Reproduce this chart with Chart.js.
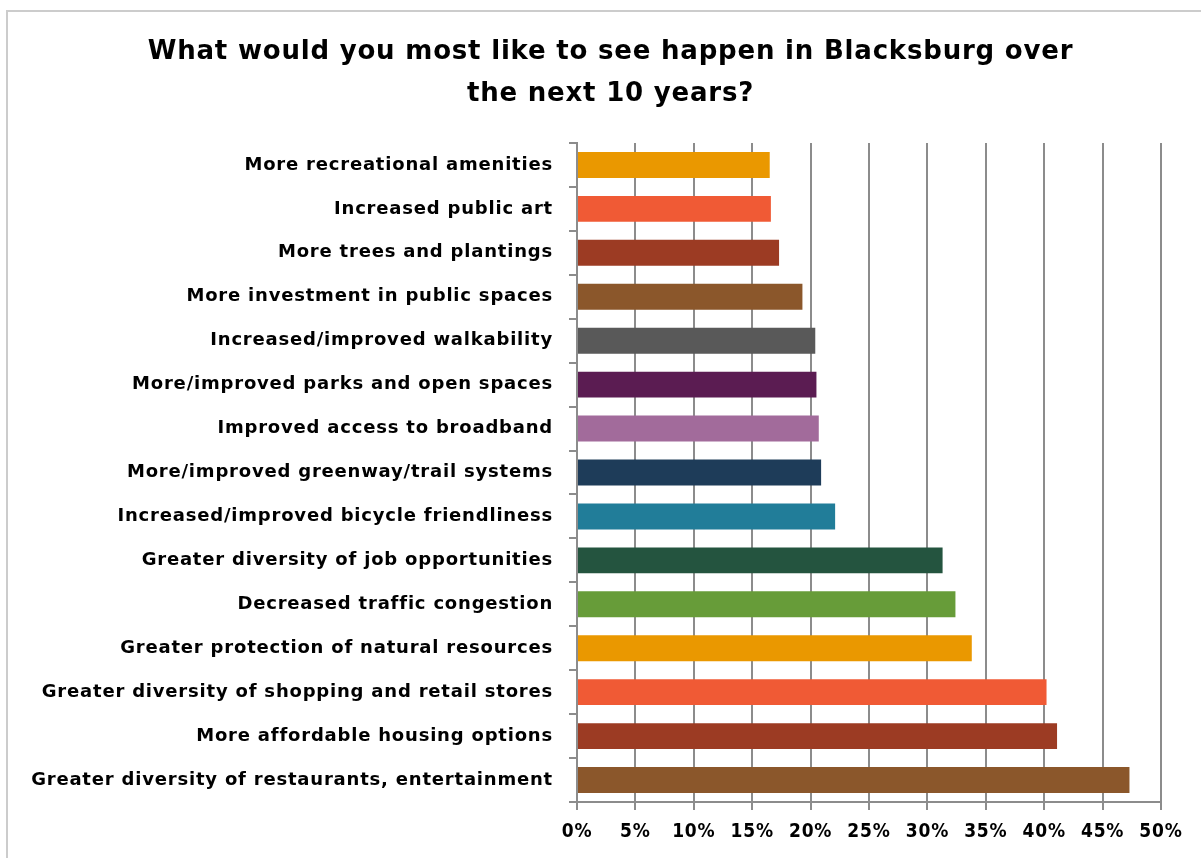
<!DOCTYPE html>
<html>
<head>
<meta charset="utf-8">
<title>Blacksburg survey</title>
<script src="https://cdn.jsdelivr.net/npm/chart.js@4"></script>
<style>
  html, body { margin: 0; padding: 0; background: #fff; }
  #wrap { position: relative; width: 1201px; height: 858px; }
</style>
</head>
<body>
<div id="wrap"><canvas id="survey-chart" width="1201" height="858"></canvas></div>
<script>
// Survey answers, top to bottom as drawn
const categories = [
  'More recreational amenities',
  'Increased public art',
  'More trees and plantings',
  'More investment in public spaces',
  'Increased/improved walkability',
  'More/improved parks and open spaces',
  'Improved access to broadband',
  'More/improved greenway/trail systems',
  'Increased/improved bicycle friendliness',
  'Greater diversity of job opportunities',
  'Decreased traffic congestion',
  'Greater protection of natural resources',
  'Greater diversity of shopping and retail stores',
  'More affordable housing options',
  'Greater diversity of restaurants, entertainment'
];

// Share of respondents (percent)
const shares = [16.5, 16.6, 17.3, 19.3, 20.4, 20.5, 20.7, 20.9, 22.1, 31.3, 32.4, 33.8, 40.2, 41.1, 47.3];

const barColors = [
  '#EA9800', '#F05A35', '#9C3B23', '#8B572B', '#595959',
  '#5B1C52', '#A26B9B', '#1E3C59', '#217D99', '#24543F',
  '#679C39', '#EA9800', '#F05A35', '#9C3B23', '#8B572B'
];

const xTicks = [0, 5, 10, 15, 20, 25, 30, 35, 40, 45, 50];

const titleLines = [
  'What would you most like to see happen in Blacksburg over',
  'the next 10 years?'
];

const FONT = "'DejaVu Sans', sans-serif";
const CONDENSED = "'DejaVu Sans Condensed', 'DejaVu Sans', sans-serif";

// Thin frame on the top and left edges, plus a little tracking for the text
const framePlugin = {
  id: 'frame',
  afterLayout(chart) {
    // nudge the title so it centres a bit right of the canvas middle
    if (chart.titleBlock) chart.titleBlock.left += 60;
  },
  beforeDraw(chart) {
    const ctx = chart.ctx;
    ctx.save();
    ctx.fillStyle = '#fff';
    ctx.fillRect(0, 0, chart.width, chart.height);
    ctx.strokeStyle = '#cccccc';
    ctx.lineWidth = 2;
    ctx.beginPath();
    ctx.moveTo(7, chart.height);
    ctx.lineTo(7, 11);
    ctx.lineTo(chart.width, 11);
    ctx.stroke();
    ctx.restore();
    ctx.letterSpacing = '0.8px';
  }
};

const ctx = document.getElementById('survey-chart').getContext('2d');
const surveyChart = new Chart(ctx, {
  type: 'bar',
  data: {
    labels: categories,
    datasets: [{
      data: shares,
      backgroundColor: barColors,
      borderWidth: 0,
      categoryPercentage: 1,
      barPercentage: 0.59
    }]
  },
  options: {
    indexAxis: 'y',
    responsive: false,
    animation: false,
    layout: { padding: { left: 0, right: 40, top: 10, bottom: 0 } },
    plugins: {
      legend: { display: false },
      tooltip: { enabled: false },
      title: {
        display: true,
        text: titleLines,
        color: '#000',
        font: { family: FONT, size: 26, weight: 'bold', lineHeight: 1.615 },
        padding: { top: 21, bottom: 28 }
      }
    },
    scales: {
      x: {
        min: 0,
        max: 50,
        afterBuildTicks(scale) {
          scale.ticks = xTicks.map(v => ({ value: v }));
        },
        afterFit(scale) { scale.height = 56; },
        ticks: {
          color: '#000',
          padding: 11,
          font: { family: CONDENSED, size: 19, weight: 'bold' },
          callback: v => v + '%'
        },
        grid: {
          color: '#8c8c8c',
          lineWidth: 2,
          tickLength: 8
        },
        border: { color: '#8c8c8c', width: 2 }
      },
      y: {
        afterFit(scale) { scale.width = 577; },
        ticks: {
          color: '#000',
          padding: 16,
          font: { family: FONT, size: 18, weight: 'bold' }
        },
        grid: {
          drawOnChartArea: false,
          offset: true,
          color: '#8c8c8c',
          lineWidth: 2,
          tickLength: 8
        },
        border: { color: '#8c8c8c', width: 2 }
      }
    }
  },
  plugins: [framePlugin]
});
</script>
</body>
</html>
